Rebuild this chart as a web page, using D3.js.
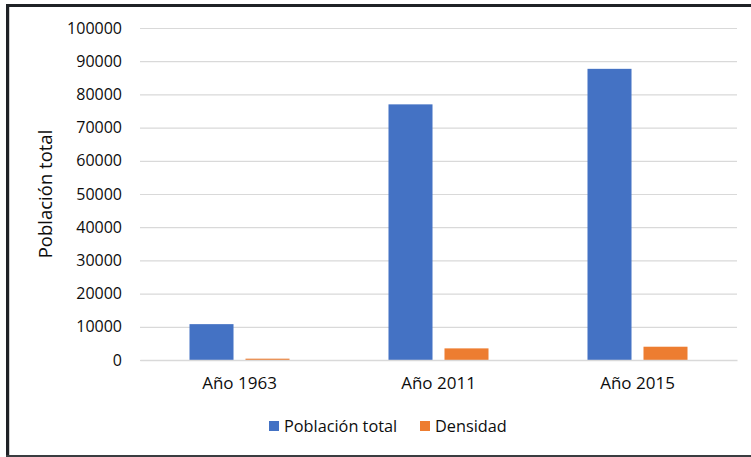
<!DOCTYPE html>
<html>
<head>
<meta charset="utf-8">
<script src="https://cdnjs.cloudflare.com/ajax/libs/d3/7.8.5/d3.min.js"></script>
<style>
  body { margin: 0; background: #fff; }
  text { font-family: "Open Sans", "Liberation Sans", sans-serif; fill: #0d0d0d; }
</style>
</head>
<body>
<div class="chart"></div>
<script>
var years = ["Año 1963", "Año 2011", "Año 2015"];
var seriesNames = ["Población total", "Densidad"];
var poblacion = [10800, 77000, 87700];
var densidad = [400, 3500, 4000];
var yTicks = [0, 10000, 20000, 30000, 40000, 50000, 60000, 70000, 80000, 90000, 100000];

var colors = ["#4472C4", "#ED7D31"];

var svgWidth = 751;
var svgHeight = 457;
var margin = { top: 28, right: 14, bottom: 97, left: 140 };
var width = svgWidth - margin.left - margin.right;
var height = svgHeight - margin.top - margin.bottom;

var svg = d3.select(".chart")
    .append("svg")
    .attr("width", svgWidth)
    .attr("height", svgHeight);

// frame around the chart (cut from a document)
svg.append("line").attr("x1", 6).attr("x2", svgWidth).attr("y1", 5.5).attr("y2", 5.5)
    .attr("stroke", "#1f2226").attr("stroke-width", 3);
svg.append("line").attr("x1", 7.5).attr("x2", 7.5).attr("y1", 4).attr("y2", svgHeight)
    .attr("stroke", "#1f2226").attr("stroke-width", 3);
svg.append("line").attr("x1", 9.5).attr("x2", 9.5).attr("y1", 7).attr("y2", 455)
    .attr("stroke", "#d0d0d0").attr("stroke-width", 1);
svg.append("line").attr("x1", 6).attr("x2", svgWidth).attr("y1", 456).attr("y2", 456)
    .attr("stroke", "#3a3d40").attr("stroke-width", 2);

var chart = svg.append("g")
    .attr("transform", "translate(" + margin.left + "," + margin.top + ")");

var data = years.map(function(y, i) {
    return { year: y, values: [poblacion[i], densidad[i]] };
});

var xScale = d3.scaleBand().domain(years).range([0, width]);
var xInner = d3.scaleBand().domain(d3.range(seriesNames.length))
    .range([0, xScale.bandwidth()])
    .paddingInner(0.214)
    .paddingOuter(0.884);
var yScale = d3.scaleLinear().domain([0, 100000]).range([height, 0]);

// gridlines
var leftAxis = d3.axisLeft(yScale).tickValues(yTicks).tickSize(-width).tickPadding(18)
    .tickFormat(d3.format("d"));
var yAxis = chart.append("g").call(leftAxis);
yAxis.select(".domain").remove();
yAxis.selectAll(".tick line").attr("stroke", "#d9d9d9").attr("stroke-width", 1.2);
yAxis.selectAll(".tick text").style("font-size", "16px").attr("fill", "#0d0d0d");

// bars
var groups = chart.selectAll(".group")
    .data(data)
    .enter()
    .append("g")
    .attr("transform", function(d) { return "translate(" + xScale(d.year) + ",0)"; });

groups.selectAll("rect")
    .data(function(d) { return d.values; })
    .enter()
    .append("rect")
    .attr("x", function(d, i) { return xInner(i); })
    .attr("width", xInner.bandwidth())
    .attr("y", function(d) { return yScale(d); })
    .attr("height", function(d) { return height - yScale(d); })
    .attr("fill", function(d, i) { return colors[i]; });

// x axis
var bottomAxis = d3.axisBottom(xScale).tickSize(0).tickPadding(17);
var xAxis = chart.append("g")
    .attr("transform", "translate(0," + height + ")")
    .call(bottomAxis);
xAxis.select(".domain").attr("stroke", "#d9d9d9").attr("stroke-width", 1.5);
xAxis.selectAll(".tick text").style("font-size", "17px").attr("fill", "#0d0d0d");

// y axis title
svg.append("text")
    .attr("transform", "translate(46," + (margin.top + height / 2) + ") rotate(-90)")
    .attr("text-anchor", "middle")
    .attr("dy", "0.35em")
    .style("font-size", "18.5px")
    .text("Población total");

// legend
var legendX = [269, 420];
var legend = svg.selectAll(".legend")
    .data(seriesNames)
    .enter()
    .append("g")
    .attr("transform", function(d, i) { return "translate(" + legendX[i] + ",421)"; });

legend.append("rect")
    .attr("width", 10)
    .attr("height", 10)
    .attr("fill", function(d, i) { return colors[i]; });

legend.append("text")
    .attr("x", 15)
    .attr("y", 5)
    .attr("dy", "0.35em")
    .style("font-size", "16.3px")
    .text(function(d) { return d; });
</script>
</body>
</html>
